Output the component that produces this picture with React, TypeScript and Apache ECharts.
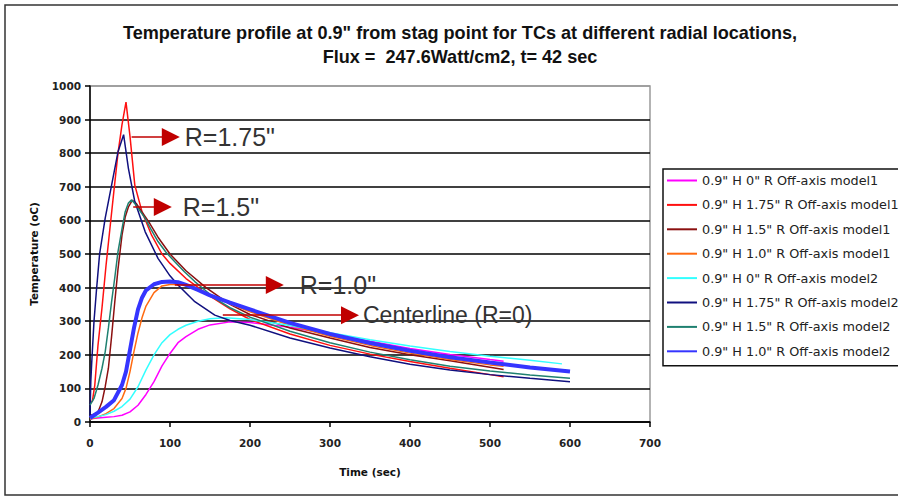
import React, { useEffect, useRef } from "react";
import * as echarts from "echarts";

const TITLE_LINES = [
  'Temperature profile at 0.9" from stag point for TCs at different radial locations,',
  "Flux =  247.6Watt/cm2, t= 42 sec",
];
const X_NAME = "Time (sec)";
const Y_NAME = "Temperature (oC)";

// Series names and colours (legend order)
const seriesNames = [
  '0.9" H 0" R Off-axis model1',
  '0.9" H 1.75" R Off-axis model1',
  '0.9" H 1.5" R Off-axis model1',
  '0.9" H 1.0" R Off-axis model1',
  '0.9" H 0" R Off-axis model2',
  '0.9" H 1.75" R Off-axis model2',
  '0.9" H 1.5" R Off-axis model2',
  '0.9" H 1.0" R Off-axis model2',
];
const seriesColors = ["#ff00ff", "#ff1010", "#8b1010", "#ff6a10", "#33ffff", "#10107f", "#1f8070", "#3535ff"];
const seriesWidths = [1.5, 1.5, 1.5, 1.5, 1.5, 1.5, 1.5, 4];

// Time (sec) / temperature (oC) samples for each thermocouple curve
const m1R0Time = [0, 10, 20, 30, 40, 50, 60, 70, 80, 90, 100, 110, 120, 135, 150, 175, 200, 250, 300, 350, 400, 450, 500, 517];
const m1R0Temp = [10, 12, 14, 16, 20, 30, 50, 82, 120, 167, 204, 236, 254, 276, 289, 298, 296, 282, 262, 240, 219, 201, 186, 181];

const m1R175Time = [0, 3, 6, 10, 15, 20, 25, 30, 35, 40, 45, 50, 56, 65, 77, 90, 100, 120, 150, 175, 200, 250, 300, 350, 400, 450, 500, 517];
const m1R175Temp = [60, 62, 110, 229, 340, 465, 578, 690, 800, 885, 952, 850, 705, 626, 556, 500, 472, 427, 375, 337, 305, 262, 228, 202, 180, 160, 141, 135];

const m1R15Time = [0, 5, 10, 15, 19, 23, 27, 31, 35, 40, 44, 48, 53, 58, 65, 75, 85, 100, 120, 145, 175, 200, 250, 300, 350, 400, 450, 500, 517];
const m1R15Temp = [20, 22, 30, 60, 105, 160, 255, 358, 455, 556, 610, 640, 660, 650, 625, 590, 550, 500, 450, 400, 350, 320, 280, 250, 222, 200, 182, 163, 156];

const m1R10Time = [0, 10, 20, 30, 40, 45, 50, 55, 60, 65, 70, 80, 90, 100, 110, 125, 150, 175, 200, 250, 300, 350, 400, 450, 500, 517];
const m1R10Temp = [8, 15, 25, 40, 70, 100, 150, 210, 265, 310, 345, 385, 405, 409, 410, 407, 380, 352, 328, 288, 255, 228, 205, 186, 170, 166];

const m2R0Time = [0, 10, 20, 30, 40, 50, 60, 70, 80, 90, 100, 110, 120, 135, 150, 170, 200, 250, 300, 350, 400, 450, 500, 550, 590];
const m2R0Temp = [12, 16, 22, 32, 46, 68, 105, 155, 200, 236, 260, 276, 288, 300, 307, 310, 305, 287, 266, 245, 226, 210, 196, 184, 173];

const m2R175Time = [0, 1, 2, 5, 8, 12, 19, 27, 35, 42, 48, 56, 69, 85, 100, 110, 131, 156, 175, 200, 250, 300, 350, 400, 450, 500, 550, 600];
const m2R175Temp = [20, 120, 170, 300, 390, 500, 607, 705, 804, 855, 755, 656, 566, 487, 435, 408, 358, 318, 302, 288, 250, 220, 194, 172, 155, 141, 130, 120];

const m2R15Time = [0, 5, 10, 15, 19, 23, 27, 31, 35, 40, 44, 48, 52, 56, 62, 69, 77, 85, 95, 106, 118, 131, 145, 156, 175, 200, 250, 300, 350, 400, 450, 500, 550, 600];
const m2R15Temp = [50, 70, 110, 160, 209, 280, 358, 430, 507, 575, 626, 652, 661, 650, 630, 606, 570, 537, 505, 477, 447, 418, 390, 368, 340, 312, 270, 236, 208, 185, 166, 152, 140, 130];

const m2R10Time = [0, 5, 10, 20, 30, 40, 45, 50, 55, 60, 65, 70, 80, 90, 100, 110, 120, 135, 150, 175, 200, 250, 300, 350, 400, 450, 500, 550, 600];
const m2R10Temp = [12, 20, 28, 45, 65, 110, 150, 215, 280, 335, 370, 392, 410, 417, 418, 416, 408, 393, 377, 355, 335, 295, 262, 235, 212, 193, 177, 162, 150];

const seriesTimes = [m1R0Time, m1R175Time, m1R15Time, m1R10Time, m2R0Time, m2R175Time, m2R15Time, m2R10Time];
const seriesTemps = [m1R0Temp, m1R175Temp, m1R15Temp, m1R10Temp, m2R0Temp, m2R175Temp, m2R15Temp, m2R10Temp];

// Callout arrows (data units) and their labels
const calloutText = ['R=1.75"', 'R=1.5"', 'R=1.0"', "Centerline (R=0)"];
const calloutTemp = [848, 640, 408, 318];
const calloutFrom = [52, 54, 106, 166];
const calloutTo = [101, 91, 231, 325];
const calloutGap = [14, 20, 25, 13];
const calloutSize = [25, 25, 25, 23];

const X_MIN = 0;
const X_MAX = 700;
const X_STEP = 100;
const Y_MIN = 0;
const Y_MAX = 1000;
const Y_STEP = 100;

const tickFont = "'DejaVu Sans', Verdana, sans-serif";
const titleFont = "'Liberation Sans', Arial, sans-serif";
const calloutFont = "'Liberation Sans', Arial, sans-serif";

// Title is drawn condensed: stretch factor so the first line spans the header width
function titleScale(): number {
  const ctx = document.createElement("canvas").getContext("2d");
  if (!ctx) return 0.85;
  ctx.font = `bold 18px ${titleFont}`;
  const w = ctx.measureText(TITLE_LINES[0]).width;
  return w > 0 ? 675 / w : 0.85;
}

export default function App() {
  const ref = useRef<HTMLDivElement>(null);

  useEffect(() => {
    if (!ref.current) return;
    const chart = echarts.init(ref.current, undefined, { renderer: "svg" });

    const series: any[] = seriesNames.map((name, i) => ({
      name,
      type: "line",
      showSymbol: false,
      symbol: "none",
      data: seriesTimes[i].map((t, k) => [t, seriesTemps[i][k]]),
      lineStyle: { color: seriesColors[i], width: seriesWidths[i] },
      itemStyle: { color: seriesColors[i] },
      z: 2,
    }));

    series[series.length - 1].markLine = {
      silent: true,
      symbol: ["none", "triangle"],
      symbolSize: 18,
      lineStyle: { color: "#c00000", width: 1.5, type: "solid" },
      itemStyle: { color: "#c00000" },
      label: {
        show: true,
        position: "end",
        color: "#333",
        fontFamily: calloutFont,
      },
      data: calloutText.map((txt, i) => [
        {
          coord: [calloutFrom[i], calloutTemp[i]],
          label: { formatter: txt, distance: calloutGap[i], fontSize: calloutSize[i] },
        },
        { coord: [calloutTo[i], calloutTemp[i]] },
      ]),
    };

    const splitColors = Array.from({ length: 11 }, (_, i) => (i === 10 ? "#9a9a9a" : "#000"));
    const sx = titleScale();

    chart.setOption({
      animation: false,
      backgroundColor: "#fff",
      graphic: [
        {
          type: "rect",
          shape: { x: 5, y: 5, width: 910, height: 490 },
          style: { fill: "none", stroke: "#333", lineWidth: 1.5 },
          silent: true,
          z: -1,
        },
        ...TITLE_LINES.map((line, i) => ({
          type: "text",
          x: 460,
          y: 33 + i * 24,
          scaleX: sx,
          silent: true,
          style: {
            text: line,
            align: "center",
            verticalAlign: "middle",
            font: `bold 18px ${titleFont}`,
            fill: "#111",
          },
        })),
      ],
      legend: {
        data: seriesNames.map((n) => ({ name: n })),
        orient: "vertical",
        left: 663,
        top: 169,
        itemWidth: 30,
        itemHeight: 14,
        itemGap: 9.4,
        padding: [4, 24, 7, 4],
        borderColor: "#111",
        borderWidth: 1.5,
        backgroundColor: "#fff",
        icon: "path://M0,6 L30,6 L30,8 L0,8 Z",
        textStyle: { fontFamily: tickFont, fontSize: 12.8, color: "#222", lineHeight: 15 },
        selectedMode: false,
      },
      grid: {
        left: 90,
        right: 248,
        top: 86,
        bottom: 77,
        show: true,
        borderColor: "#9a9a9a",
        borderWidth: 1.5,
        backgroundColor: "transparent",
      },
      xAxis: {
        type: "value",
        min: X_MIN,
        max: X_MAX,
        interval: X_STEP,
        name: X_NAME,
        nameLocation: "middle",
        nameGap: 44,
        nameTextStyle: { fontFamily: tickFont, fontSize: 10.5, fontWeight: "bold", color: "#111" },
        axisLine: { lineStyle: { color: "#000", width: 1.5 } },
        axisTick: { show: true, length: 5, lineStyle: { color: "#000", width: 1.5 } },
        axisLabel: { fontFamily: tickFont, fontSize: 10.5, fontWeight: "bold", color: "#222", margin: 15 },
        splitLine: { show: false },
      },
      yAxis: {
        type: "value",
        min: Y_MIN,
        max: Y_MAX,
        interval: Y_STEP,
        name: Y_NAME,
        nameLocation: "middle",
        nameGap: 51,
        nameTextStyle: { fontFamily: tickFont, fontSize: 10.5, fontWeight: "bold", color: "#111" },
        axisLine: { show: true, lineStyle: { color: "#000", width: 1.5 } },
        axisTick: { show: true, length: 5, lineStyle: { color: "#000", width: 1.5 } },
        axisLabel: {
          fontFamily: tickFont,
          fontSize: 10.5,
          fontWeight: "bold",
          color: "#222",
          margin: 9,
          formatter: (v: number) => String(v),
        },
        splitLine: { show: true, lineStyle: { color: splitColors, width: 1.5 } },
      },
      series,
    });

    return () => chart.dispose();
  }, []);

  return (
    <div
      ref={ref}
      style={{ position: "fixed", left: 0, top: 0, width: 898, height: 499, background: "#fff" }}
    />
  );
}
